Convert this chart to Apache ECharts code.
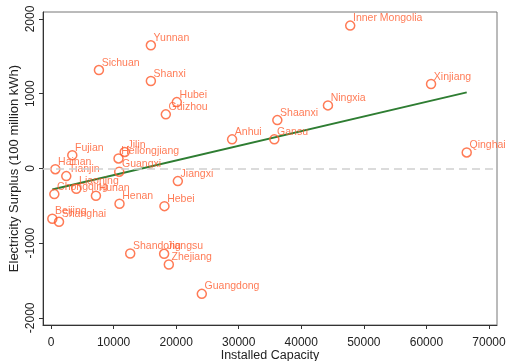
<!DOCTYPE html>
<html>
<head>
<meta charset="utf-8">
<script src="https://cdn.jsdelivr.net/npm/echarts@6/dist/echarts.min.js"></script>
<style>
  html, body { margin: 0; padding: 0; background: #fff; }
  #chart { width: 507px; height: 361px; }
</style>
</head>
<body>
<div id="chart"></div>
<script>
// Provinces with installed capacity and electricity surplus (100 million kWh)
const provinces = ['Beijing', 'Tianjin', 'Hebei', 'Shanxi', 'Inner Mongolia', 'Liaoning', 'Jilin', 'Heilongjiang',
  'Shanghai', 'Jiangsu', 'Zhejiang', 'Anhui', 'Fujian', 'Jiangxi', 'Shandong', 'Henan', 'Hubei', 'Hunan',
  'Guangdong', 'Guangxi', 'Hainan', 'Chongqing', 'Sichuan', 'Guizhou', 'Yunnan', 'Shaanxi', 'Gansu',
  'Qinghai', 'Ningxia', 'Xinjiang'];
const capacity = [210, 2440, 18130, 15960, 47820, 4040, 11780, 10790,
  1280, 18080, 18830, 28940, 3400, 20270, 12660, 10950, 20110, 7180,
  24100, 10900, 690, 530, 7660, 18350, 15960, 36170, 35690,
  66440, 44260, 60740];
const surplus = [-674, -103, -505, 1170, 1912, -272, 221, 134,
  -715, -1143, -1286, 389, 178, -170, -1139, -473, 888, -366,
  -1679, -44, -10, -344, 1317, 724, 1648, 647, 389,
  214, 844, 1130];

// Fitted trend line end points
const fitX = [210, 66440];
const fitY = [-281, 1018];

// Tick values
const xTicks = [0, 10000, 20000, 30000, 40000, 50000, 60000, 70000];
const yTicks = [-2000, -1000, 0, 1000, 2000];

const pointColor = '#ff5a2c';
const font = '"Liberation Sans", Arial, Helvetica, sans-serif';

const points = provinces.map((p, i) => ({ name: p, value: [capacity[i], surplus[i]] }));

const chart = echarts.init(document.getElementById('chart'), null, { renderer: 'canvas' });
chart.setOption({
  animation: false,
  backgroundColor: '#fff',
  grid: {
    left: 43, right: 10, top: 12, bottom: 36,
    outerBoundsMode: 'none',
    containLabel: false,
    show: true, borderColor: '#777', borderWidth: 1, backgroundColor: 'transparent'
  },
  xAxis: {
    type: 'value',
    min: -1280, max: 71280,
    name: 'Installed Capacity',
    nameLocation: 'middle',
    nameGap: 24,
    nameMoveOverlap: false,
    nameTextStyle: { fontFamily: font, fontSize: 12.5, color: '#222' },
    axisLine: { show: true, onZero: false, lineStyle: { color: '#333', width: 1 } },
    axisTick: { show: true, length: 4, customValues: xTicks, lineStyle: { color: '#333' } },
    axisLabel: { customValues: xTicks, margin: 12, fontFamily: font, fontSize: 12, color: '#222',
      formatter: (v) => String(v) },
    splitLine: { show: false }
  },
  yAxis: {
    type: 'value',
    min: -2096, max: 2094,
    name: 'Electricity Surplus (100 million kWh)',
    nameLocation: 'middle',
    nameGap: 22,
    nameMoveOverlap: false,
    nameRotate: 90,
    nameTextStyle: { fontFamily: font, fontSize: 13, color: '#222' },
    axisLine: { show: true, onZero: false, lineStyle: { color: '#333', width: 1 } },
    axisTick: { show: true, length: 4, customValues: yTicks, lineStyle: { color: '#333' } },
    axisLabel: { customValues: yTicks, rotate: 90, margin: 6, fontFamily: font, fontSize: 12, color: '#222',
      formatter: (v) => String(v) },
    splitLine: { show: false }
  },
  series: [
    {
      type: 'line',
      data: [],
      silent: true,
      markLine: {
        silent: true,
        symbol: 'none',
        label: { show: false },
        lineStyle: { color: '#cfcfcf', type: [8, 5], width: 1.5 },
        data: [{ yAxis: 0 }]
      }
    },
    {
      type: 'line',
      data: fitX.map((x, i) => [x, fitY[i]]),
      symbol: 'none',
      lineStyle: { color: '#2e7d32', width: 2 },
      z: 3
    },
    {
      type: 'scatter',
      data: points,
      symbol: 'circle',
      symbolSize: 9,
      itemStyle: { color: 'rgba(255,255,255,0)', borderColor: pointColor, borderWidth: 1.5 },
      label: {
        show: true,
        position: [8, -2],
        align: 'left',
        verticalAlign: 'middle',
        formatter: (p) => p.name,
        fontFamily: font,
        fontSize: 10.5,
        color: pointColor
      },
      labelLayout: { hideOverlap: false },
      z: 4
    }
  ]
});
</script>
</body>
</html>
